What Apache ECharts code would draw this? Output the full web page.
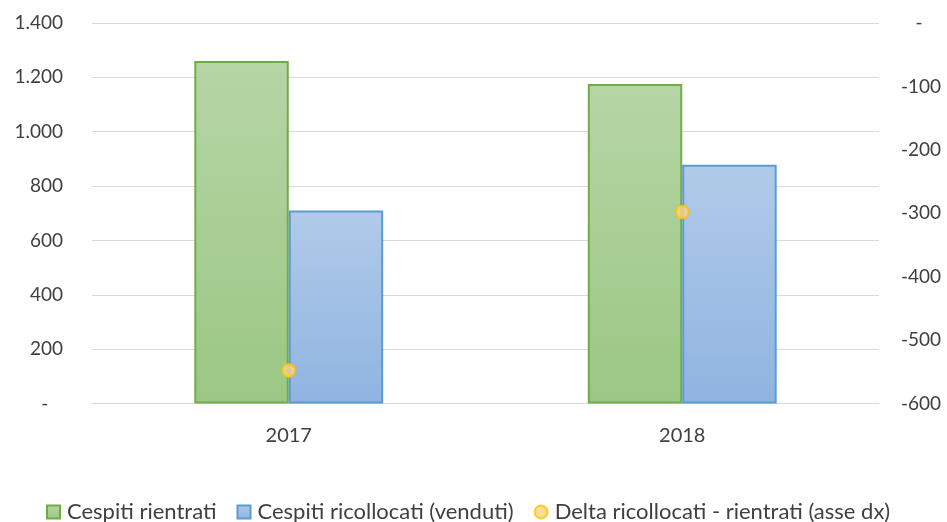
<!DOCTYPE html>
<html>
<head>
<meta charset="utf-8">
<script src="https://cdn.jsdelivr.net/npm/echarts@6/dist/echarts.min.js"></script>
<style>
  html, body { margin: 0; padding: 0; background: #fff; }
  #chart { width: 947px; height: 522px; }
</style>
</head>
<body>
<div id="chart"></div>
<script>
// Anni
const categories = ['2017', '2018'];
// Cespiti rientrati
const rientrati = [1260, 1176];
// Cespiti ricollocati (venduti)
const ricollocati = [710, 878];
// Delta ricollocati - rientrati (asse dx)
const delta = [-548, -298];

const FONT = 'Lato';
const TXT = '#404040';

function fmtIt(v) {
  if (v === 0) return '-   ';
  const s = Math.abs(v).toString().replace(/\B(?=(\d{3})+(?!\d))/g, '.');
  return (v < 0 ? '-' : '') + s;
}

function grad(top, bottom) {
  return new echarts.graphic.LinearGradient(0, 0, 0, 1, [
    { offset: 0, color: top },
    { offset: 1, color: bottom }
  ]);
}

const chart = echarts.init(document.getElementById('chart'));
chart.setOption({
  animation: false,
  textStyle: { fontFamily: FONT },
  grid: { left: 92, right: 68, top: 23, bottom: 118.5 },
  legend: {
    top: 501,
    left: 46,
    padding: 0,
    itemWidth: 13,
    itemHeight: 13,
    itemGap: 20,
    textStyle: { fontFamily: FONT, fontSize: 22, color: TXT, padding: [0, 0, 0, 2] },
    data: [
      { name: 'Cespiti rientrati', icon: 'rect' },
      { name: 'Cespiti ricollocati (venduti)', icon: 'rect' },
      { name: 'Delta ricollocati - rientrati (asse dx)', icon: 'circle' }
    ]
  },
  xAxis: {
    type: 'category',
    data: categories,
    axisLine: { lineStyle: { color: '#d9d9d9', width: 1 } },
    axisTick: { show: false },
    axisLabel: { color: TXT, fontSize: 20, fontFamily: FONT, margin: 22 }
  },
  yAxis: [
    {
      type: 'value',
      min: 0, max: 1400, interval: 200,
      axisLine: { show: false },
      axisTick: { show: false },
      splitLine: { lineStyle: { color: '#d9d9d9', width: 1 } },
      axisLabel: { color: TXT, fontSize: 19, fontFamily: FONT, margin: 29, formatter: fmtIt }
    },
    {
      type: 'value',
      min: -600, max: 0, interval: 100,
      axisLine: { show: false },
      axisTick: { show: false },
      splitLine: { show: false },
      axisLabel: {
        color: TXT, fontSize: 19, fontFamily: FONT, margin: 22,
        formatter: v => v === 0 ? '   -' : String(v)
      }
    }
  ],
  series: [
    {
      name: 'Cespiti rientrati',
      type: 'bar',
      data: rientrati,
      barGap: '0%',
      barCategoryGap: '52%',
      itemStyle: { color: grad('#b6d5a5', '#9bc784'), borderColor: '#70ad47', borderWidth: 2 }
    },
    {
      name: 'Cespiti ricollocati (venduti)',
      type: 'bar',
      data: ricollocati,
      itemStyle: { color: grad('#b1cae9', '#8fb4e0'), borderColor: '#5b9bd5', borderWidth: 2 }
    },
    {
      name: 'Delta ricollocati - rientrati (asse dx)',
      type: 'scatter',
      yAxisIndex: 1,
      data: delta,
      symbol: 'circle',
      symbolSize: 13,
      z: 5,
      itemStyle: { color: '#ffd480', borderColor: '#ffc000', borderWidth: 2 }
    }
  ]
});
</script>
</body>
</html>
